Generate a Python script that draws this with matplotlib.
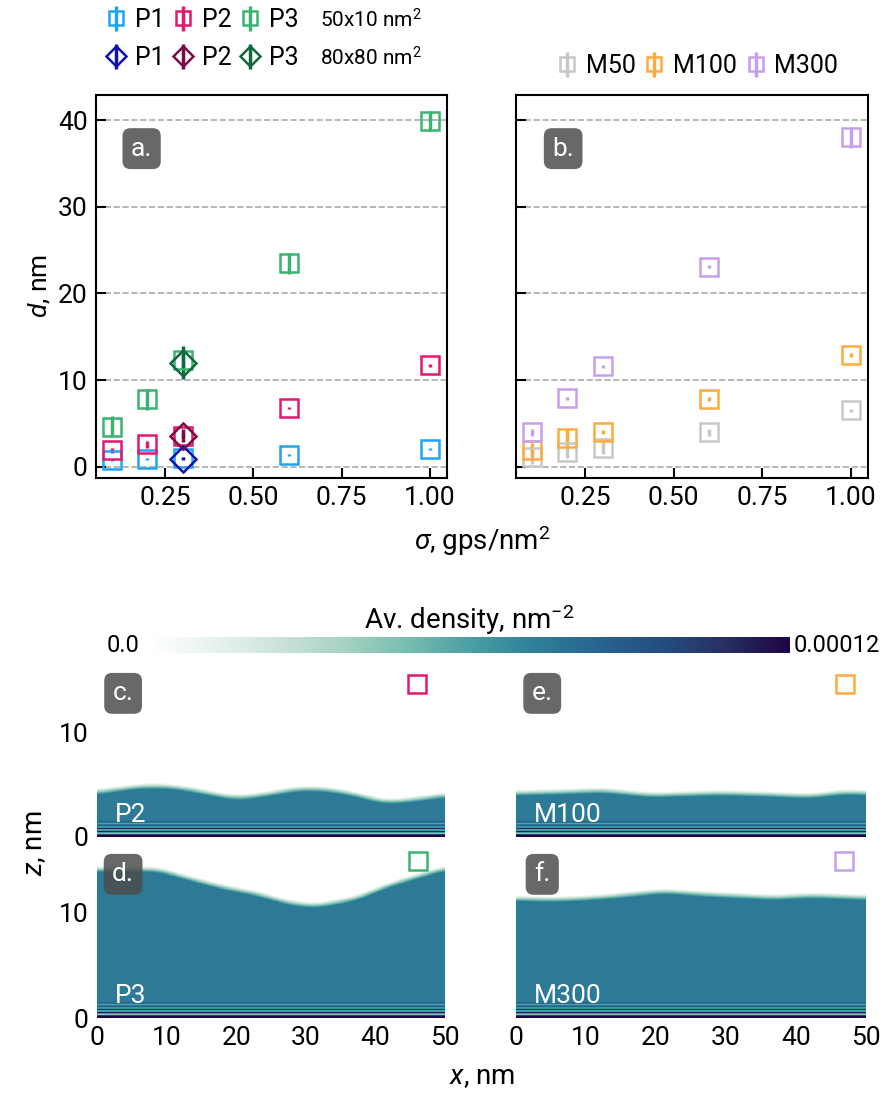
import numpy as np
import matplotlib
matplotlib.use("Agg")
import matplotlib.pyplot as plt
from matplotlib.colors import LinearSegmentedColormap, Normalize
from matplotlib.cm import ScalarMappable

plt.rcParams['font.family'] = ['Roboto', 'DejaVu Sans']
plt.rcParams['font.size'] = 19
plt.rcParams['mathtext.fontset'] = 'custom'
plt.rcParams['mathtext.rm'] = 'Roboto'
plt.rcParams['mathtext.it'] = 'Roboto:italic'

# ---- data: film thickness d vs grafting density sigma ----
sigma = [0.1, 0.2, 0.3, 0.6, 1.0]
# 50x10 nm^2 boxes
p1_d = [0.8, 0.9, 1.0, 1.35, 2.05]
p1_err = [0.15, 0.15, 0.15, 0.15, 0.15]
p2_d = [1.9, 2.6, 3.6, 6.8, 11.7]
p2_err = [0.3, 0.4, 0.3, 0.15, 0.2]
p3_d = [4.6, 7.8, 12.3, 23.5, 39.9]
p3_err = [1.2, 1.2, 1.2, 1.2, 1.2]
# 80x80 nm^2 boxes
big_sigma = [0.3]
p1_big, p1_big_err = [0.95], [0.2]
p2_big, p2_big_err = [3.6], [0.7]
p3_big, p3_big_err = [12.0], [1.9]
# melts
m50_d = [1.1, 1.7, 2.2, 4.0, 6.5]
m50_err = [0.8, 0.7, 0.7, 0.4, 0.15]
m100_d = [1.9, 3.3, 4.0, 7.8, 12.9]
m100_err = [0.8, 1.0, 0.2, 0.2, 0.2]
m300_d = [4.0, 7.9, 11.6, 23.1, 38.0]
m300_err = [0.4, 0.2, 0.15, 0.15, 1.2]

# ---- data: film surface profiles z(x) for the density maps ----
p2_sx = [0, 6.2, 10, 13.4, 19.1, 21.5, 25.3, 28.7, 32.5, 36.3, 41.1, 43, 46.9, 50]
p2_sz = [4.3, 4.85, 4.85, 4.55, 3.8, 3.8, 4.2, 4.6, 4.6, 4.2, 3.4, 3.4, 3.7, 4.0]
p3_sx = [0, 8.6, 13.4, 18, 22.8, 27.6, 31.4, 37.2, 42, 50]
p3_sz = [14.2, 14.2, 13.3, 12.5, 11.9, 11.0, 10.7, 11.4, 12.7, 14.3]
m100_sx = [0, 6, 12.5, 19.2, 24, 28.8, 35, 42, 47, 50]
m100_sz = [4.2, 4.3, 4.45, 4.0, 4.1, 4.2, 4.1, 3.9, 4.3, 4.2]
m300_sx = [0, 4.9, 9, 13.4, 21, 27.6, 37.1, 42, 50]
m300_sz = [11.4, 11.3, 11.4, 11.6, 12.1, 11.8, 11.5, 11.7, 11.5]
# layering near the substrate (fraction of max density)
wall_z = [0.0, 0.2, 0.35, 0.5, 0.65, 0.8, 0.95, 1.1, 1.25, 1.4, 1.6]
wall_rho = [1.0, 1.0, 0.3, 0.95, 0.3, 0.9, 0.4, 0.8, 0.45, 0.72, 0.62]
fill_rho = 0.62
vmax = 0.00012

c_p1, c_p2, c_p3 = '#1ea5f2', '#e5186f', '#3cb371'
c_b1, c_b2, c_b3 = '#1212a6', '#7a0b47', '#12683c'
c_m50, c_m100, c_m300 = '#c8c8c8', '#ffaa40', '#c6a0ef'

cmap = LinearSegmentedColormap.from_list('dens', [
    (0.0, '#ffffff'), (0.15, '#dcece5'), (0.3, '#a8d3c3'), (0.4, '#78beb0'),
    (0.5, '#4aa0a4'), (0.6, '#2f8099'), (0.7, '#276590'), (0.8, '#244e80'),
    (0.9, '#272f64'), (1.0, '#1e0545')])

W, H = 883, 1093
fig = plt.figure(figsize=(W / 100, H / 100), dpi=100)


def box(l, t, r, b):
    return [l / W, 1 - b / H, (r - l) / W, (b - t) / H]


def tag(ax, s, x, y):
    ax.text(x, y, s, transform=ax.transAxes, color='white', ha='center', va='center',
            fontsize=19,
            bbox=dict(boxstyle='round,pad=0.32,rounding_size=0.3',
                      fc=(0.3, 0.3, 0.3, 0.85), ec='none'),
            zorder=10)


ax_a = fig.add_axes(box(96, 95, 447, 478))
ax_b = fig.add_axes(box(516, 95, 868, 478), sharey=ax_a)

eb = dict(fmt='s', ms=13, mfc='none', mew=1.8, elinewidth=2.5, capsize=0)
ebd = dict(fmt='D', ms=13, mfc='none', mew=1.8, elinewidth=2.5, capsize=0)

h1 = ax_a.errorbar(sigma, p1_d, yerr=p1_err, color=c_p1, label='P1', **eb)
h2 = ax_a.errorbar(sigma, p2_d, yerr=p2_err, color=c_p2, label='P2', **eb)
h3 = ax_a.errorbar(sigma, p3_d, yerr=p3_err, color=c_p3, label='P3', **eb)
g1 = ax_a.errorbar(big_sigma, p1_big, yerr=p1_big_err, color=c_b1, label='P1', **ebd)
g2 = ax_a.errorbar(big_sigma, p2_big, yerr=p2_big_err, color=c_b2, label='P2', **ebd)
g3 = ax_a.errorbar(big_sigma, p3_big, yerr=p3_big_err, color=c_b3, label='P3', **ebd)

k1 = ax_b.errorbar(sigma, m50_d, yerr=m50_err, color=c_m50, label='M50', **eb)
k2 = ax_b.errorbar(sigma, m100_d, yerr=m100_err, color=c_m100, label='M100', **eb)
k3 = ax_b.errorbar(sigma, m300_d, yerr=m300_err, color=c_m300, label='M300', **eb)

for ax in (ax_a, ax_b):
    ax.set_xlim(0.055, 1.048)
    ax.set_ylim(-1.3, 42.9)
    ax.set_yticks([0, 10, 20, 30, 40])
    ax.set_xticks([0.25, 0.5, 0.75, 1.0])
    ax.set_xticklabels(['0.25', '0.50', '0.75', '1.00'])
    ax.yaxis.grid(True, ls='--', color='#aaaaaa', lw=1.2)
    ax.set_axisbelow(True)
    ax.tick_params(direction='in', length=7, width=1.5, pad=6)
    for sp in ax.spines.values():
        sp.set_linewidth(1.5)
ax_b.tick_params(labelleft=False)
ax_a.set_ylabel('$d$, nm', labelpad=4)
tag(ax_a, 'a.', 0.13, 0.86)
tag(ax_b, 'b.', 0.134, 0.86)
fig.text(482 / W, 1 - 541 / H, r'$\sigma$, gps/nm$^2$', ha='center', va='center', fontsize=20)

leg_kw = dict(frameon=False, handlelength=0.6, handletextpad=0.45, columnspacing=0.45,
              markerscale=0.8, borderpad=0, fontsize=18)
fig.legend([h1, g1, h2, g2, h3, g3], ['P1', 'P1', 'P2', 'P2', 'P3', 'P3'], ncol=3,
           loc='center left', bbox_to_anchor=(96 / W, 1 - 39 / H), labelspacing=0.55,
           **leg_kw)
fig.text(320 / W, 1 - 20 / H, '50x10 nm$^2$', fontsize=15, va='center')
fig.text(320 / W, 1 - 58 / H, '80x80 nm$^2$', fontsize=15, va='center')
fig.legend([k1, k2, k3], ['M50', 'M100', 'M300'], ncol=3, loc='center left',
           bbox_to_anchor=(547 / W, 1 - 66 / H), **leg_kw)

# ---- colorbar ----
cax = fig.add_axes(box(148, 637, 790, 653))
cb = fig.colorbar(ScalarMappable(Normalize(0, vmax), cmap), cax=cax, orientation='horizontal')
cb.outline.set_visible(False)
cb.set_ticks([])
cax.set_title('Av. density, nm$^{-2}$', fontsize=20, pad=6)
fig.text(140 / W, 1 - 645 / H, '0.0', ha='right', va='center', fontsize=17)
fig.text(794 / W, 1 - 645 / H, '0.00012', ha='left', va='center', fontsize=17)

# ---- density maps ----
xg = np.linspace(0, 50, 500)
zg = np.linspace(0, 16, 480)


def density(sx, sz):
    h = np.interp(xg, sx, sz)
    k = np.exp(-0.5 * (np.arange(-30, 31) * 0.1 / 1.2) ** 2)
    k /= k.sum()
    h = np.convolve(np.pad(h, 30, mode='edge'), k, mode='valid')
    base = np.interp(zg, wall_z + [16], wall_rho + [fill_rho])[:, None]
    edge = np.clip((h[None, :] - zg[:, None]) / 0.6 + 0.5, 0, 1)
    return base * edge * vmax


panels = [
    (box(97, 669, 445, 837), p2_sx, p2_sz, 'c.', 'P2', c_p2, 46.0, 14.6, False),
    (box(97, 850, 445, 1018), p3_sx, p3_sz, 'd.', 'P3', c_p3, 46.1, 15.0, True),
    (box(516, 669, 866, 837), m100_sx, m100_sz, 'e.', 'M100', c_m100, 47.0, 14.6, False),
    (box(516, 850, 866, 1018), m300_sx, m300_sz, 'f.', 'M300', c_m300, 46.9, 15.0, True),
]
for rect, sx, sz, lab, name, col, mx, mz, bottom in panels:
    ax = fig.add_axes(rect)
    ax.imshow(density(sx, sz), extent=[0, 50, 0, 16], origin='lower', aspect='auto',
              cmap=cmap, vmin=0, vmax=vmax, interpolation='nearest')
    ax.plot([mx], [mz], 's', ms=13, mfc='none', mec=col, mew=1.8)
    ax.set_xlim(0, 50)
    ax.set_ylim(0, 16)
    ax.set_yticks([0, 10])
    ax.set_xticks([0, 10, 20, 30, 40, 50])
    ax.tick_params(length=0, pad=6, labelbottom=bottom, labelleft=rect[0] < 0.5)
    for sp in ax.spines.values():
        sp.set_visible(False)
    tag(ax, lab, 0.075, 0.855)
    ax.text(0.05, 0.13, name, transform=ax.transAxes, color='white', ha='left',
            va='center', fontsize=19)

fig.text(35 / W, 1 - 843 / H, '$z$, nm', rotation=90, ha='center', va='center', fontsize=20)
fig.text(482 / W, 1 - 1077 / H, '$x$, nm', ha='center', va='center', fontsize=20)

fig.savefig('out.png', dpi=100)
